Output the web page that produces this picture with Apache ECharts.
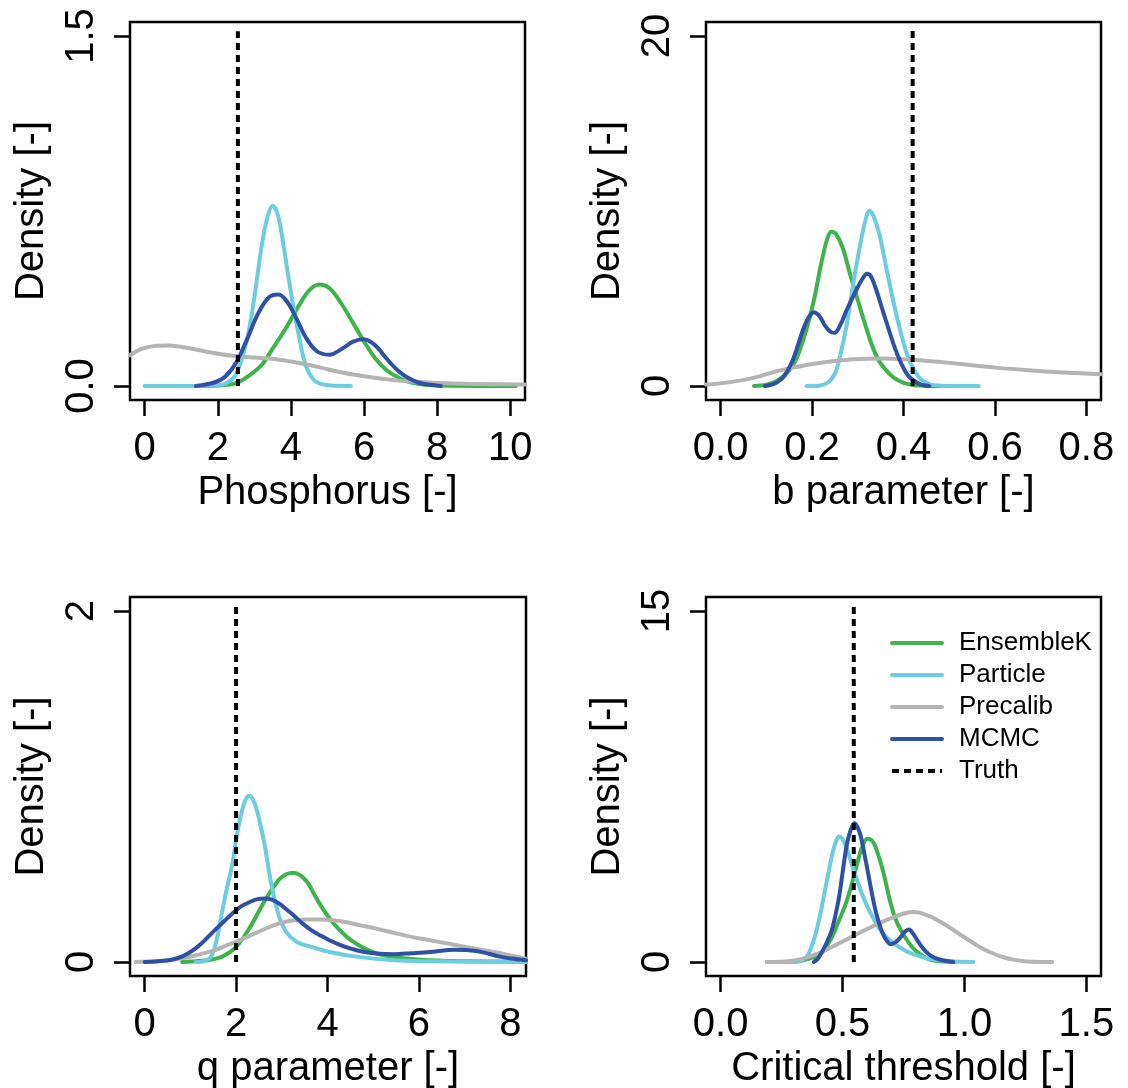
<!DOCTYPE html>
<html>
<head>
<meta charset="utf-8">
<title>Posterior densities</title>
<script src="https://cdn.jsdelivr.net/npm/echarts@6/dist/echarts.min.js"></script>
<style>
    html, body { margin: 0; padding: 0; background: #ffffff; }
    #main { width: 1128px; height: 1088px; }
</style>
</head>
<body>
<div id="main"></div>
<script>
// ---- data: [x, density] ----
const phosEnsembleK = [[1.5,0],[2.0,0.002],[2.5,0.012],[2.9,0.05],[3.2,0.09],[3.5,0.16],[3.87,0.25],[4.2,0.34],[4.5,0.41],[4.78,0.435],[5.05,0.42],[5.35,0.36],[5.7,0.27],[6.0,0.19],[6.3,0.12],[6.6,0.07],[6.9,0.04],[7.3,0.015],[7.8,0.004],[8.5,0.001],[10.15,0]];
const phosParticle = [[0,0],[1.2,0],[1.9,0.002],[2.2,0.01],[2.5,0.05],[2.8,0.2],[3.0,0.38],[3.2,0.6],[3.35,0.72],[3.5,0.773],[3.65,0.73],[3.8,0.6],[3.95,0.45],[4.1,0.31],[4.25,0.19],[4.4,0.09],[4.6,0.03],[4.8,0.01],[5.1,0.002],[5.64,0]];
const phosPrecalib = [[-0.4,0.131],[-0.1,0.158],[0.3,0.172],[0.64,0.174],[1.0,0.168],[1.5,0.153],[2.0,0.138],[2.55,0.127],[3.0,0.122],[3.5,0.117],[4.0,0.105],[4.5,0.09],[5.0,0.072],[5.5,0.055],[6.0,0.042],[6.5,0.031],[7.0,0.023],[7.5,0.017],[8.0,0.013],[9.0,0.009],[10.4,0.006]];
const phosMCMC = [[1.4,0],[1.9,0.015],[2.2,0.04],[2.5,0.1],[2.8,0.2],[3.1,0.31],[3.4,0.38],[3.66,0.392],[3.9,0.36],[4.15,0.29],[4.4,0.21],[4.7,0.15],[5.05,0.134],[5.4,0.16],[5.7,0.19],[5.98,0.2],[6.3,0.175],[6.6,0.12],[6.9,0.07],[7.2,0.035],[7.5,0.014],[7.8,0.005],[8.1,0]];

const bEnsembleK = [[0.073,0],[0.1,0.07],[0.125,0.32],[0.145,0.75],[0.164,1.46],[0.185,3.0],[0.204,4.9],[0.22,7.0],[0.232,8.3],[0.242,8.82],[0.252,8.7],[0.267,7.9],[0.283,6.4],[0.307,4.3],[0.33,2.4],[0.345,1.5],[0.362,0.9],[0.38,0.45],[0.402,0.17],[0.42,0.06],[0.44,0.02],[0.47,0.004],[0.52,0]];
const bParticle = [[0.188,0],[0.215,0.02],[0.235,0.2],[0.25,0.7],[0.259,1.46],[0.275,3.4],[0.291,6.0],[0.307,8.3],[0.318,9.6],[0.325,10.02],[0.333,9.8],[0.347,8.7],[0.362,6.8],[0.386,3.9],[0.41,1.65],[0.434,0.5],[0.458,0.1],[0.48,0.02],[0.52,0.002],[0.565,0]];
const bPrecalib = [[-0.032,0.08],[0.0,0.15],[0.045,0.32],[0.085,0.55],[0.125,0.86],[0.165,1.08],[0.204,1.27],[0.245,1.42],[0.283,1.52],[0.32,1.56],[0.362,1.57],[0.4,1.53],[0.442,1.46],[0.48,1.37],[0.521,1.27],[0.56,1.16],[0.6,1.05],[0.68,0.89],[0.759,0.76],[0.832,0.67]];
const bMCMC = [[0.097,0],[0.11,0.06],[0.125,0.23],[0.14,0.6],[0.156,1.37],[0.17,2.4],[0.18,3.2],[0.192,3.9],[0.204,4.22],[0.216,4.0],[0.228,3.46],[0.24,3.1],[0.249,3.04],[0.262,3.5],[0.275,4.3],[0.299,5.6],[0.312,6.2],[0.32,6.41],[0.328,6.3],[0.339,5.6],[0.35,4.7],[0.362,3.7],[0.386,1.84],[0.41,0.6],[0.434,0.13],[0.445,0.04],[0.456,0]];

const qEnsembleK = [[0.82,0],[1.0,0.002],[1.37,0.01],[1.69,0.03],[2.0,0.086],[2.31,0.2],[2.63,0.35],[2.94,0.47],[3.1,0.5],[3.25,0.509],[3.4,0.495],[3.57,0.45],[3.72,0.38],[3.88,0.31],[4.04,0.25],[4.2,0.2],[4.35,0.16],[4.51,0.124],[4.75,0.085],[4.98,0.057],[5.2,0.04],[5.45,0.029],[5.84,0.017],[6.24,0.01],[7.02,0.004],[8.34,0.001]];
const qParticle = [[1.12,0],[1.3,0.005],[1.45,0.03],[1.57,0.12],[1.69,0.28],[1.8,0.42],[1.92,0.56],[2.0,0.7],[2.1,0.83],[2.2,0.92],[2.29,0.947],[2.38,0.92],[2.47,0.85],[2.55,0.76],[2.63,0.66],[2.78,0.43],[2.94,0.26],[3.1,0.17],[3.33,0.114],[3.65,0.086],[4.04,0.057],[4.67,0.029],[5.45,0.01],[6.24,0.004],[7.5,0.001],[8.34,0]];
const qPrecalib = [[-0.2,0],[0.35,0.005],[0.9,0.025],[1.22,0.045],[1.53,0.067],[1.75,0.09],[2.0,0.114],[2.47,0.17],[2.94,0.22],[3.2,0.235],[3.49,0.242],[3.88,0.242],[4.35,0.229],[4.7,0.21],[5.06,0.19],[5.45,0.166],[5.84,0.143],[6.24,0.124],[6.63,0.105],[7.02,0.086],[7.41,0.067],[7.9,0.043],[8.34,0.019]];
const qMCMC = [[0,0],[0.3,0.004],[0.59,0.013],[0.85,0.035],[1.06,0.067],[1.3,0.12],[1.53,0.18],[1.75,0.235],[1.92,0.276],[2.1,0.315],[2.31,0.343],[2.47,0.358],[2.63,0.362],[2.78,0.355],[2.94,0.333],[3.1,0.3],[3.25,0.267],[3.45,0.22],[3.65,0.18],[3.85,0.15],[4.04,0.124],[4.27,0.098],[4.51,0.076],[4.78,0.058],[5.06,0.048],[5.45,0.044],[5.84,0.05],[6.24,0.057],[6.78,0.07],[7.25,0.063],[7.55,0.045],[7.8,0.029],[8.1,0.017],[8.34,0.01]];

const ctEnsembleK = [[0.2,0],[0.3,0.01],[0.382,0.21],[0.42,0.45],[0.442,0.79],[0.465,1.25],[0.486,1.79],[0.51,2.4],[0.531,3.07],[0.56,4.2],[0.58,4.9],[0.602,5.27],[0.62,5.2],[0.635,4.93],[0.665,3.93],[0.694,2.64],[0.715,1.9],[0.739,1.36],[0.77,0.85],[0.798,0.5],[0.83,0.25],[0.858,0.1],[0.9,0.03],[0.962,0]];
const ctParticle = [[0.189,0],[0.3,0.01],[0.33,0.06],[0.352,0.21],[0.367,0.5],[0.382,0.93],[0.397,1.5],[0.412,2.2],[0.427,3.0],[0.442,3.8],[0.46,4.7],[0.475,5.2],[0.486,5.36],[0.5,5.25],[0.516,4.9],[0.531,4.4],[0.546,3.9],[0.568,3.25],[0.59,2.64],[0.612,2.15],[0.635,1.71],[0.657,1.35],[0.679,1.07],[0.716,0.75],[0.754,0.5],[0.79,0.33],[0.828,0.21],[0.87,0.11],[0.902,0.07],[0.96,0.025],[1.036,0]];
const ctPrecalib = [[0.189,0],[0.25,0.01],[0.308,0.07],[0.345,0.16],[0.382,0.29],[0.42,0.45],[0.456,0.64],[0.494,0.84],[0.531,1.04],[0.568,1.24],[0.605,1.43],[0.642,1.62],[0.679,1.79],[0.716,1.94],[0.754,2.07],[0.783,2.14],[0.81,2.12],[0.828,2.07],[0.865,1.92],[0.902,1.71],[0.94,1.47],[0.977,1.21],[1.014,0.96],[1.051,0.71],[1.088,0.5],[1.125,0.33],[1.16,0.2],[1.2,0.1],[1.237,0.04],[1.274,0.01],[1.36,0]];
const ctMCMC = [[0.382,0],[0.397,0.12],[0.412,0.36],[0.434,0.8],[0.456,1.36],[0.471,2.0],[0.486,2.79],[0.5,3.8],[0.516,4.93],[0.532,5.6],[0.549,5.93],[0.562,5.75],[0.575,5.36],[0.59,4.6],[0.605,3.79],[0.62,2.95],[0.635,2.21],[0.65,1.65],[0.665,1.21],[0.682,0.9],[0.697,0.76],[0.718,0.85],[0.739,1.07],[0.756,1.3],[0.772,1.39],[0.79,1.2],[0.806,0.93],[0.825,0.65],[0.843,0.43],[0.865,0.25],[0.887,0.14],[0.92,0.05],[0.954,0]];

// true values (dotted line) and how high the dotted line goes
const truthX = [2.55, 0.42, 2.0, 0.546];
const truthTop = [1.52, 20.3, 2.04, 15.3];

// axis ticks
const xTicks = [[0, 2, 4, 6, 8, 10], [0, 0.2, 0.4, 0.6, 0.8], [0, 2, 4, 6, 8], [0, 0.5, 1.0, 1.5]];
const yTicks = [[0, 1.5], [0, 20], [0, 2], [0, 15]];
const xNames = ['Phosphorus [-]', 'b parameter [-]', 'q parameter [-]', 'Critical threshold [-]'];
const seriesNames = ['EnsembleK', 'Particle', 'Precalib', 'MCMC', 'Truth'];

const panelData = [
    [phosEnsembleK, phosParticle, phosPrecalib, phosMCMC],
    [bEnsembleK, bParticle, bPrecalib, bMCMC],
    [qEnsembleK, qParticle, qPrecalib, qMCMC],
    [ctEnsembleK, ctParticle, ctPrecalib, ctMCMC]
];

// ---- layout ----
const colors = ['#3cb44b', '#6ccde0', '#b4b4b4', '#2f50a5'];
const FONT = "'Liberation Sans', Arial, Helvetica, sans-serif";
const boxes = [
    {left: 130, top: 22, width: 395, height: 378},
    {left: 706, top: 22, width: 395, height: 378},
    {left: 130, top: 597, width: 396, height: 379},
    {left: 706, top: 597, width: 395, height: 379}
];
const xRange = [[-0.4, 10.4], [-0.032, 0.832], [-0.32, 8.34], [-0.06, 1.56]];
const yRange = [[-0.06, 1.56], [-0.8, 20.8], [-0.08, 2.08], [-0.6, 15.6]];
const xDigits = [0, 1, 0, 1];
const yDigits = [1, 0, 0, 0];

function makeGrid(i) {
    return Object.assign({
        show: true,
        borderColor: '#000',
        borderWidth: 2.5,
        backgroundColor: 'transparent',
        containLabel: false,
        outerBoundsMode: 'none'
    }, boxes[i]);
}

function makeXAxis(i) {
    return {
        type: 'value',
        gridIndex: i,
        position: 'bottom',
        min: xRange[i][0],
        max: xRange[i][1],
        name: xNames[i],
        nameLocation: 'middle',
        nameGap: 73,
        nameMoveOverlap: false,
        nameTextStyle: {fontSize: 40, color: '#000', fontFamily: FONT},
        axisLine: {show: false, onZero: false},
        axisTick: {show: true, inside: false, length: 16, lineStyle: {color: '#000', width: 2.5}, customValues: xTicks[i]},
        axisLabel: {
            show: true, fontSize: 40, color: '#000', fontFamily: FONT, margin: 29,
            customValues: xTicks[i],
            formatter: function (v) { return Number(v).toFixed(xDigits[i]); }
        },
        splitLine: {show: false}
    };
}

function makeYAxis(i) {
    return {
        type: 'value',
        gridIndex: i,
        position: 'left',
        min: yRange[i][0],
        max: yRange[i][1],
        name: 'Density [-]',
        nameLocation: 'middle',
        nameGap: 78,
        nameMoveOverlap: false,
        nameTextStyle: {fontSize: 40, color: '#000', fontFamily: FONT},
        axisLine: {show: false, onZero: false},
        axisTick: {show: true, inside: false, length: 16, lineStyle: {color: '#000', width: 2.5}, customValues: yTicks[i]},
        axisLabel: {
            show: true, fontSize: 40, color: '#000', fontFamily: FONT, margin: 28, rotate: 90,
            customValues: yTicks[i],
            formatter: function (v) { return Number(v).toFixed(yDigits[i]); }
        },
        splitLine: {show: false}
    };
}

function makeSeries(i) {
    const out = [];
    for (let k = 0; k < 4; k++) {
        out.push({
            name: seriesNames[k],
            type: 'line',
            xAxisIndex: i,
            yAxisIndex: i,
            data: panelData[i][k],
            smooth: 0.35,
            symbol: 'none',
            lineStyle: {color: colors[k], width: 4, cap: 'round', join: 'round'},
            itemStyle: {color: colors[k]},
            z: 2 + k
        });
    }
    out.push({
        name: 'Truth',
        type: 'line',
        xAxisIndex: i,
        yAxisIndex: i,
        data: [[truthX[i], 0], [truthX[i], truthTop[i]]],
        symbol: 'none',
        lineStyle: {color: '#000', width: 4, type: [7, 5]},
        itemStyle: {color: '#000'},
        z: 10
    });
    return out;
}

const chart = echarts.init(document.getElementById('main'), null, {renderer: 'canvas'});

let series = [];
for (let i = 0; i < 4; i++) {
    series = series.concat(makeSeries(i));
}

const option = {
    animation: false,
    backgroundColor: '#ffffff',
    textStyle: {fontFamily: FONT},
    grid: [0, 1, 2, 3].map(makeGrid),
    xAxis: [0, 1, 2, 3].map(makeXAxis),
    yAxis: [0, 1, 2, 3].map(makeYAxis),
    legend: {
        data: seriesNames,
        orient: 'vertical',
        left: 890,
        top: 630,
        padding: 0,
        itemWidth: 50,
        itemHeight: 14,
        itemGap: 6,
        selectedMode: false,
        itemStyle: {opacity: 0},
        lineStyle: {width: 4},
        textStyle: {fontSize: 26, color: '#000', fontFamily: FONT, padding: [0, 0, 0, 12]}
    },
    tooltip: {show: false},
    series: series
};

chart.setOption(option);
</script>
</body>
</html>
